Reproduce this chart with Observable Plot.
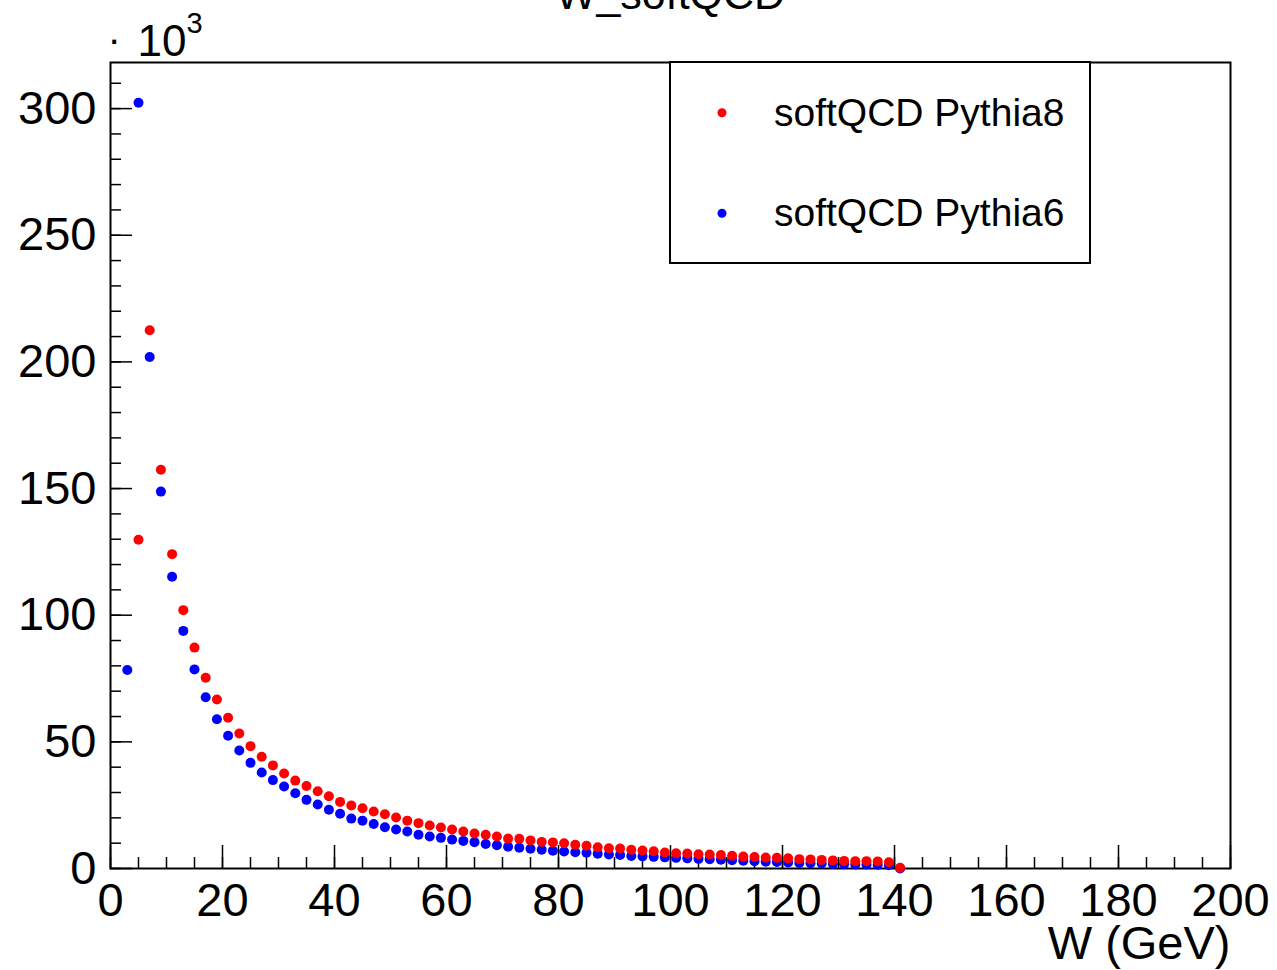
<!DOCTYPE html>
<html>
<head>
<meta charset="utf-8">
<script src="https://cdn.jsdelivr.net/npm/d3@7"></script>
<script src="https://cdn.jsdelivr.net/npm/@observablehq/plot@0.6"></script>
<style>
  body { margin: 0; background: #fff; }
  #chart svg { font-family: "Liberation Sans", Arial, Helvetica, sans-serif; }
</style>
</head>
<body>
<div id="chart"></div>
<script>
// ---- data (values in units of 10^3) ----
const binCenters = [3,5,7,9,11,13,15,17,19,21,23,25,27,29,31,33,35,37,39,41,43,45,47,49,51,53,55,57,59,61,63,65,67,69,71,73,75,77,79,81,83,85,87,89,91,93,95,97,99,101,103,105,107,109,111,113,115,117,119,121,123,125,127,129,131,133,135,137,139,141];
const pythia8 = [null,129.8,212.5,157.4,124.1,102.0,87.2,75.3,66.7,59.5,53.3,48.3,44.1,40.7,37.5,34.7,32.6,30.5,28.5,26.3,24.9,23.8,22.5,21.4,20.1,18.9,17.9,17.0,16.2,15.4,14.6,13.8,13.3,12.6,11.8,11.7,11.1,10.5,10.3,10.0,9.4,9.0,8.4,8.0,7.9,7.4,7.1,6.8,6.3,6.0,5.9,5.6,5.5,5.3,5.0,4.7,4.5,4.3,4.2,4.0,3.7,3.6,3.4,3.2,3.0,2.9,2.9,2.8,2.5,0.3];
const pythia6 = [78.4,302.3,201.9,148.8,115.2,93.8,78.6,67.6,58.9,52.4,46.6,41.7,37.9,34.9,32.4,29.7,27.1,25.3,23.2,21.6,19.7,18.9,17.6,16.3,15.4,14.6,13.3,12.6,12.1,11.4,10.9,10.4,9.7,9.2,8.6,8.2,7.8,7.4,7.0,6.7,6.4,6.2,5.8,5.5,5.3,4.9,4.8,4.6,4.4,4.2,4.0,3.8,3.7,3.5,3.3,3.1,2.9,2.7,2.6,2.4,2.2,2.1,2.0,1.8,1.7,1.6,1.6,1.5,1.3,0.0];
const seriesNames = ["softQCD Pythia8", "softQCD Pythia6"];
const seriesColors = ["#ff0000", "#0000ff"];
const xMajorTicks = [0,20,40,60,80,100,120,140,160,180,200];
const xMinorTicks = [0,5,10,15,20,25,30,35,40,45,50,55,60,65,70,75,80,85,90,95,100,105,110,115,120,125,130,135,140,145,150,155,160,165,170,175,180,185,190,195,200];
const yMajorTicks = [0,50,100,150,200,250,300];
const yMinorTicks = [0,10,20,30,40,50,60,70,80,90,100,110,120,130,140,150,160,170,180,190,200,210,220,230,240,250,260,270,280,290,300,310];
const titleText = "W_softQCD";
const xLabel = "W (GeV)";

// ---- layout ----
const width = 1277, height = 970;
const mL = 110, mR = 47, mT = 62, mB = 102;
const fw = width - mL - mR, fh = height - mT - mB;

// table: Pythia6 first so Pythia8 is drawn on top
const rows = [];
binCenters.forEach((x, i) => { if (pythia6[i] != null) rows.push({x, y: pythia6[i], series: seriesNames[1]}); });
binCenters.forEach((x, i) => { if (pythia8[i] != null) rows.push({x, y: pythia8[i], series: seriesNames[0]}); });

const plot = Plot.plot({
  width, height,
  marginLeft: mL, marginRight: mR, marginTop: mT, marginBottom: mB,
  style: {fontFamily: '"Liberation Sans", Arial, Helvetica, sans-serif', background: "#fff", overflow: "visible"},
  x: {domain: [0, 200]},
  y: {domain: [0, 318.2]},
  color: {domain: seriesNames, range: seriesColors},
  marks: [
    Plot.tickY(yMinorTicks, {y: d => d, insetRight: fw - 11, stroke: "black", strokeWidth: 1.5}),
    Plot.tickY(yMajorTicks, {y: d => d, insetRight: fw - 22, stroke: "black", strokeWidth: 1.5}),
    Plot.tickX(xMinorTicks, {x: d => d, insetTop: fh - 11, stroke: "black", strokeWidth: 1.5}),
    Plot.tickX(xMajorTicks, {x: d => d, insetTop: fh - 23, stroke: "black", strokeWidth: 1.5}),
    Plot.axisX({ticks: xMajorTicks, tickSize: 0, tickPadding: 14, fontSize: 47, tickFormat: d => String(d), label: null, fill: "black"}),
    Plot.axisY({ticks: yMajorTicks, tickSize: 0, tickPadding: 14, fontSize: 47, tickFormat: d => String(d), label: null, fill: "black"}),
    Plot.frame({stroke: "black", strokeWidth: 2}),
    Plot.dot(rows, {x: "x", y: "y", fill: "series", r: 5, stroke: null}),
    Plot.text([titleText], {frameAnchor: "top", lineAnchor: "bottom", dy: -54, fontSize: 43, fill: "black"}),
    Plot.text(["·"], {frameAnchor: "top-left", textAnchor: "start", lineAnchor: "bottom", dx: -3, dy: -10, fontSize: 40, fill: "black"}),
    Plot.text(["10"], {frameAnchor: "top-left", textAnchor: "start", lineAnchor: "bottom", dx: 27, dy: -7, fontSize: 44, fill: "black"}),
    Plot.text(["3"], {frameAnchor: "top-left", textAnchor: "start", lineAnchor: "bottom", dx: 76, dy: -30, fontSize: 29, fill: "black"}),
    Plot.text([xLabel], {frameAnchor: "bottom-right", textAnchor: "end", lineAnchor: "bottom", dy: 90, fontSize: 47, fill: "black"})
  ]
});
document.getElementById("chart").appendChild(plot);

// ---- legend box (ROOT TLegend style) ----
const svg = d3.select(plot);
const lg = svg.append("g");
lg.append("rect").attr("x", 670).attr("y", 62).attr("width", 420).attr("height", 201)
  .attr("fill", "white").attr("stroke", "black").attr("stroke-width", 2);
seriesNames.forEach((name, i) => {
  const cy = 112.7 + i * 100.6;
  lg.append("circle").attr("cx", 722).attr("cy", cy).attr("r", 4.5).attr("fill", seriesColors[i]);
  lg.append("text").attr("x", 774).attr("y", cy + 13).attr("font-size", 39)
    .attr("text-anchor", "start").attr("fill", "black").text(name);
});
</script>
</body>
</html>
